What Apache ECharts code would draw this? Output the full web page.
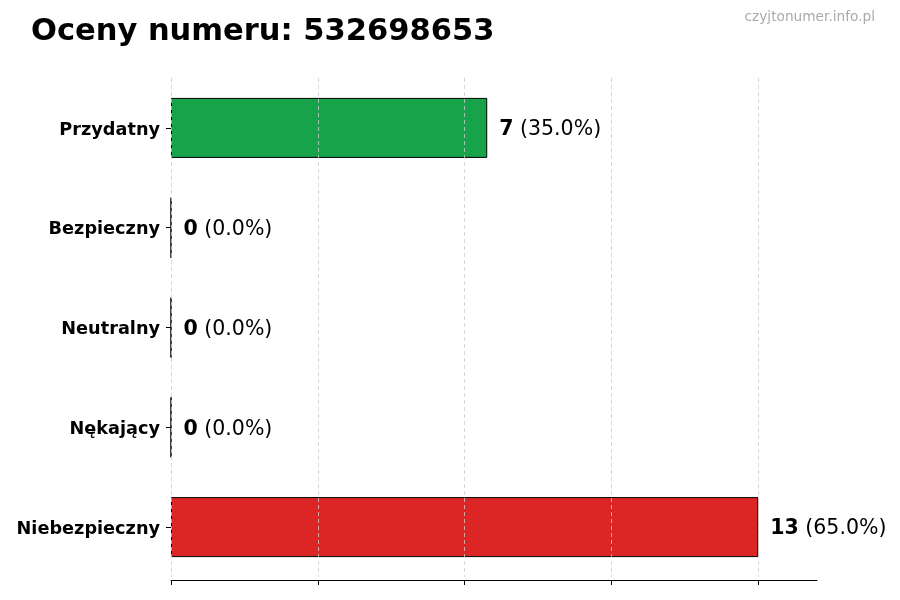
<!DOCTYPE html>
<html><head><meta charset="utf-8">
<script src="https://cdn.jsdelivr.net/npm/echarts@6/dist/echarts.min.js"></script>
<style>html,body{margin:0;padding:0;background:#fff}#c{width:900px;height:600px}</style>
</head><body><div id="c"></div>
<script>
const categories = ['Przydatny', 'Bezpieczny', 'Neutralny', 'Nękający', 'Niebezpieczny'];
const values = [7, 0, 0, 0, 13];
const colors = ['#16a34a', '#9ca3af', '#9ca3af', '#9ca3af', '#dc2626'];
const xTicks = [0, 3.25, 6.5, 9.75, 13];
const titleText = 'Oceny numeru: 532698653';
const watermark = 'czyjtonumer.info.pl';

const total = values.reduce((a, b) => a + b, 0);
const FONT = 'DejaVu Sans';
const chart = echarts.init(document.getElementById('c'), null, {renderer: 'canvas'});
chart.setOption({
  backgroundColor: '#fff',
  animation: false,
  title: [
    {text: titleText, left: 26, top: 12, textStyle: {fontFamily: FONT, fontSize: 30.5, fontWeight: 'bold', color: '#000'}},
    {text: watermark, right: 20, top: 5, textStyle: {fontFamily: FONT, fontSize: 13.7, fontWeight: 'normal', color: '#aaaaaa'}}
  ],
  grid: {left: 171, right: 83, top: 78, bottom: 23, containLabel: false},
  xAxis: {
    type: 'value', min: 0, max: 14.3, interval: 3.25, offset: 3,
    axisLabel: {show: false},
    axisLine: {show: true, lineStyle: {color: '#000', width: 1}},
    axisTick: {show: true, length: 5, lineStyle: {color: '#000'}, customValues: xTicks},
    splitLine: {show: false}
  },
  yAxis: {
    type: 'category', data: categories, inverse: true,
    axisLine: {show: false},
    axisTick: {show: true, length: 5, alignWithLabel: true, lineStyle: {color: '#000'}},
    axisLabel: {
      margin: 11,
      formatter: v => '{a|' + v + '}',
      rich: {a: {fontFamily: FONT, fontSize: 17.7, fontWeight: 'bold', color: '#000', padding: [4, 0, 0, 0]}}
    }
  },
  series: [{
    type: 'bar',
    data: values.map((v, i) => ({value: v, itemStyle: {color: colors[i]}})),
    barWidth: 60,
    itemStyle: {borderColor: '#000', borderWidth: 1},
    label: {
      show: true, position: 'right', distance: 12, padding: [4, 0, 0, 0],
      formatter: p => '{b|' + p.value + '}{n|\u00a0(' + (p.value / total * 100).toFixed(1) + '%)}',
      rich: {
        b: {fontFamily: FONT, fontSize: 20.5, fontWeight: 'bold', color: '#000'},
        n: {fontFamily: FONT, fontSize: 20.5, color: '#000'}
      }
    },
    markLine: {
      silent: true, symbol: 'none', label: {show: false},
      lineStyle: {color: '#cccccc', type: [4, 3], width: 0.8},
      data: xTicks.map(v => ({xAxis: v}))
    }
  }]
});
</script></body></html>
